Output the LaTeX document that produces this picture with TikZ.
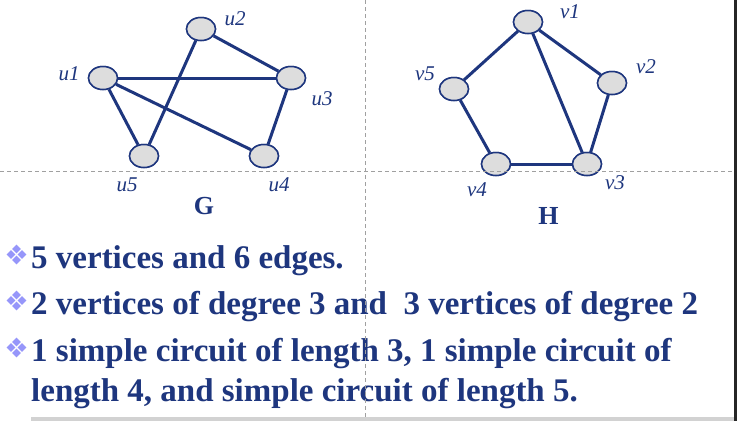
\documentclass[tikz,border=0pt]{standalone}
\usepackage{fontspec}
\setmainfont{Liberation Serif}
\usetikzlibrary{shapes.geometric}
\definecolor{navy}{RGB}{30,54,126}
\definecolor{vfill}{RGB}{221,221,221}
\definecolor{bul}{RGB}{150,150,250}
\definecolor{dashg}{RGB}{160,160,160}
\tikzset{
  vert/.style={ellipse,draw=navy,fill=vfill,line width=1.5pt,minimum width=29pt,minimum height=23pt,inner sep=0pt},
  edge/.style={draw=navy,line width=3pt},
  vlab/.style={text=navy,font=\fontsize{21}{24}\selectfont\itshape,inner sep=0pt},
  glab/.style={text=navy,font=\fontsize{26}{30}\selectfont\bfseries,inner sep=0pt},
  body/.style={text=navy,font=\fontsize{33}{40}\selectfont\bfseries,inner sep=0pt,anchor=base west},
  guide/.style={draw=dashg,line width=0.8pt,dash pattern=on 4pt off 3pt},
  dia/.style={diamond,fill=bul,minimum width=9pt,minimum height=9pt,inner sep=0pt}
}
\newcommand{\bulletmark}[2]{%
  \node[dia] at (#1+0,#2-5.5) {};
  \node[dia] at (#1-5.5,#2) {};
  \node[dia] at (#1+5.5,#2) {};
  \node[dia] at (#1+0,#2+5.5) {};
}
\begin{document}
\begin{tikzpicture}[x=1pt,y=-1pt]
\useasboundingbox (0,0) rectangle (737,421);
\fill[white] (0,0) rectangle (737,421);
% graph G
\node[vert] (u2) at (201,29) {};
\node[vert] (u1) at (103,78) {};
\node[vert] (u3) at (291,78) {};
\node[vert] (u5) at (144,156) {};
\node[vert] (u4) at (264,156) {};
\draw[edge] (u2) -- (u3);
\draw[edge] (u2) -- (u5);
\draw[edge] (u1) -- (u3);
\draw[edge] (u1) -- (u5);
\draw[edge] (u1) -- (u4);
\draw[edge] (u3) -- (u4);
\foreach \n in {u1,u2,u3,u4,u5} \node[vert] at (\n) {};
\node[vlab] (lu2) at (235,19) {u2};
\node[vlab] (lu1) at (69,74) {u1};
\node[vlab] (lu3) at (322,99) {u3};
\node[vlab] (lu5) at (127,185) {u5};
\node[vlab] (lu4) at (279,185) {u4};
\node[glab] (G) at (204,206) {G};
% graph H
\node[vert] (v1) at (528,22) {};
\node[vert] (v2) at (612,83) {};
\node[vert] (v5) at (454,89) {};
\node[vert] (v4) at (496,164) {};
\node[vert] (v3) at (587,164) {};
\draw[edge] (v1) -- (v5);
\draw[edge] (v1) -- (v2);
\draw[edge] (v1) -- (v3);
\draw[edge] (v2) -- (v3);
\draw[edge] (v5) -- (v4);
\draw[edge] (v4) -- (v3);
\foreach \n in {v1,v2,v3,v4,v5} \node[vert] at (\n) {};
\node[vlab] (lv1) at (570,12) {v1};
\node[vlab] (lv2) at (646,67) {v2};
\node[vlab] (lv5) at (425,74) {v5};
\node[vlab] (lv4) at (477,190) {v4};
\node[vlab] (lv3) at (615,183) {v3};
\node[glab] (H) at (548.5,216) {H};
% text
\bulletmark{16.5}{254.5}
\bulletmark{16.5}{300.5}
\bulletmark{16.5}{347.5}
\node[body] (t1) at (31,268) {5 vertices and 6 edges.};
\node[body] (t2) at (31,314) {2 vertices of degree 3 and~~3 vertices of degree 2};
\node[body] (t3) at (31,361) {1 simple circuit of length 3, 1 simple circuit of};
\node[body] (t4) at (31,401) {length 4, and simple circuit of length 5.};
% guides
\draw[guide] (365,0) -- (365,421);
\draw[guide] (0,171) -- (734,171);
\fill[vfill!95!black] (31,417) rectangle (734,421);
\fill[black!85] (734,0) rectangle (736.5,421);
\end{tikzpicture}
\end{document}
